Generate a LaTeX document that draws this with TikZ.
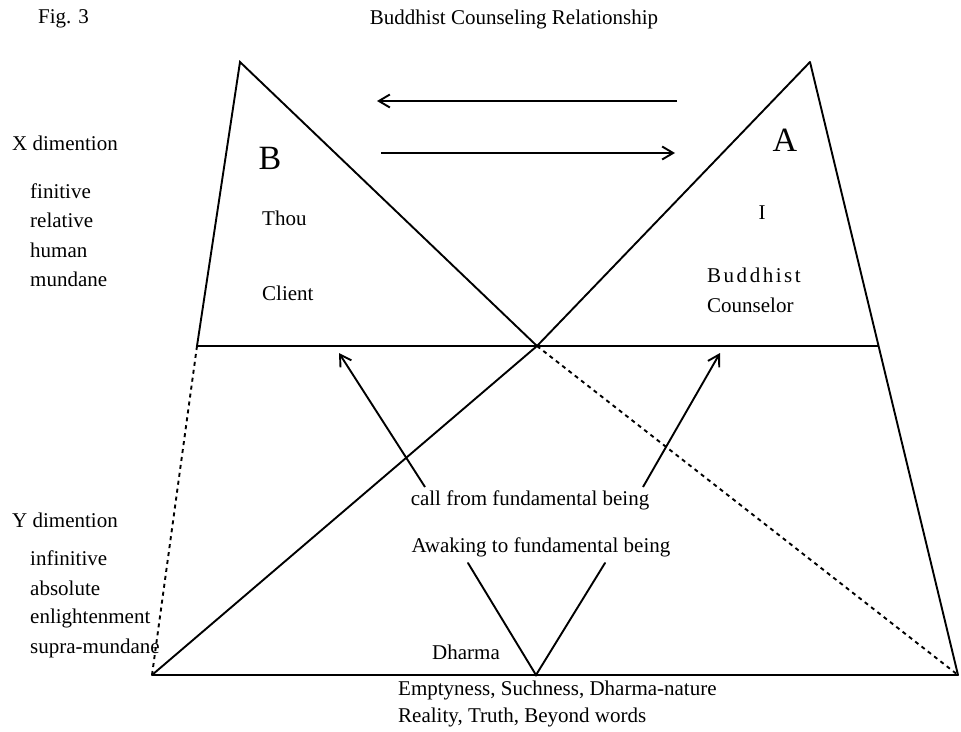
\documentclass[tikz,border=0pt]{standalone}
\usepackage{fontspec}
\setmainfont{Liberation Serif}
\usetikzlibrary{arrows.meta}
\begin{document}
\begin{tikzpicture}[x=1pt,y=-1pt,
  ln/.style={line width=1.9pt, line cap=round},
  dsh/.style={line width=1.9pt, dash pattern=on 4pt off 4pt},
  arr/.style={line width=1.9pt, -{Straight Barb[length=11pt,width=13pt,line width=1.9pt]}},
  txt/.style={inner sep=0pt, font=\fontsize{21}{25}\selectfont},
  ltxt/.style={txt, anchor=west},
  big/.style={inner sep=0pt, font=\fontsize{34}{38}\selectfont}]
\useasboundingbox (0,0) rectangle (961,731);
% vertices
\coordinate (LA) at (240,62);
\coordinate (LB) at (197,346);
\coordinate (C) at (537,346);
\coordinate (RA) at (810,62);
\coordinate (RB) at (878,346);
\coordinate (BL) at (152,675);
\coordinate (BR) at (958,675);
\coordinate (BC) at (536,675);
\coordinate (VL) at (468,563);
\coordinate (VR) at (605,563);
% solid lines
\draw[ln] (LB) -- (LA) -- (C);
\draw[ln] (LB) -- (RB);
\draw[ln] (RA) -- (BR);
\draw[ln] (RA) -- (C) -- (BL);
\draw[ln] (BL) -- (BR);
\draw[ln] (VL) -- (BC) -- (VR);
% dashed lines
\draw[dsh] (LB) -- (BL);
\draw[dsh] (C) -- (BR);
% arrows
\coordinate (a1s) at (677,101);
\coordinate (a1e) at (377,101);
\coordinate (a2s) at (381,153);
\coordinate (a2e) at (675,153);
\coordinate (a3s) at (425,487);
\coordinate (a3e) at (339,353);
\coordinate (a4s) at (643,487);
\coordinate (a4e) at (720,353);
\draw[arr] (a1s) -- (a1e);
\draw[arr] (a2s) -- (a2e);
\draw[arr] (a3s) -- (a3e);
\draw[arr] (a4s) -- (a4e);
% texts
\node[ltxt] (fig) at (38,19) {Fig. 3};
\node[txt] (title) at (514,19) {Buddhist Counseling Relationship};
\node[ltxt] (xdim) at (12,143) {X dimention};
\node[ltxt] (x1) at (30,191) {finitive};
\node[ltxt] (x2) at (30,220) {relative};
\node[ltxt] (x3) at (30,250) {human};
\node[ltxt] (x4) at (30,279) {mundane};
\node[ltxt] (ydim) at (12,520) {Y dimention};
\node[ltxt] (y1) at (30,558) {infinitive};
\node[ltxt] (y2) at (30,588) {absolute};
\node[ltxt] (y3) at (30,618) {enlightenment};
\node[ltxt] (y4) at (30,648) {supra-mundane};
\node[big] (B) at (270,158) {B};
\node[ltxt] (thou) at (262,218) {Thou};
\node[ltxt] (client) at (262,293) {Client};
\node[big] (A) at (785,140) {A};
\node[txt] (I) at (762,213) {I};
\node[ltxt] (bud) at (707,275) {\addfontfeature{LetterSpace=12}Buddhist};
\node[ltxt] (couns) at (707,305) {Counselor};
\node[txt] (call) at (530,500) {call from fundamental being};
\node[txt] (awak) at (541,547) {Awaking to fundamental being};
\node[ltxt] (dharma) at (432,652) {Dharma};
\node[ltxt] (empt) at (398,690) {Emptyness, Suchness, Dharma-nature};
\node[ltxt] (real) at (398,717) {Reality, Truth, Beyond words};
\end{tikzpicture}
\end{document}
